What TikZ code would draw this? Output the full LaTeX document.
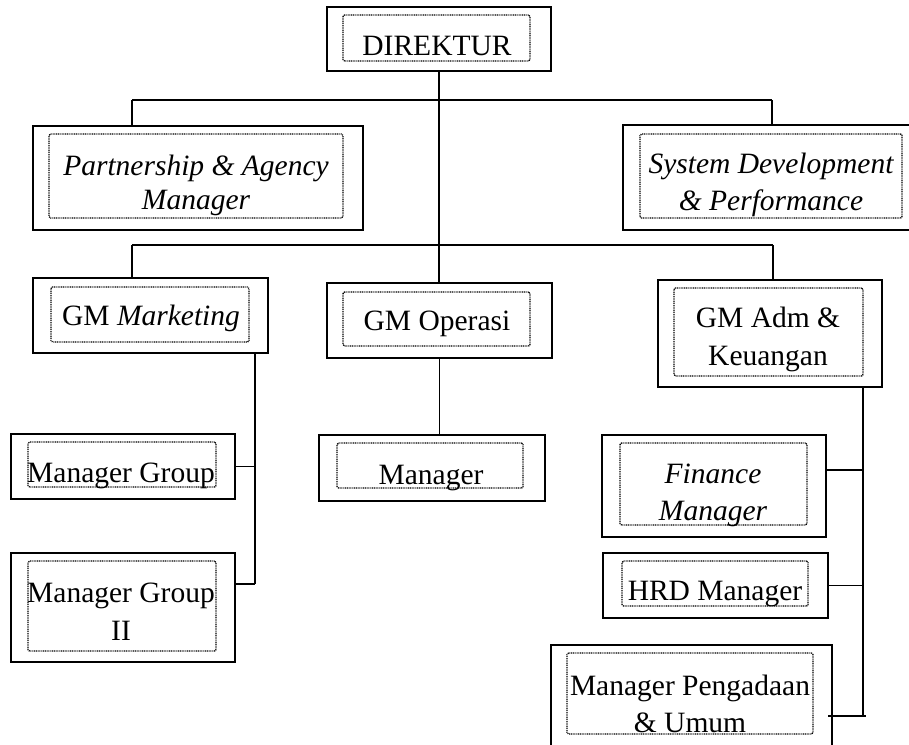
\documentclass[tikz,border=0pt]{standalone}
\usepackage{fontspec}
\setmainfont{Liberation Serif}
\tikzset{
 obox/.style={draw, line width=1.9pt, rectangle, inner sep=0pt, outer sep=0pt},
 ibox/.style={draw, line width=1.4pt, dash pattern=on 1pt off 0.8pt, rounded corners=1.5pt, inner sep=0pt, outer sep=0pt},
 lbl/.style={font=\fontsize{29.5}{35}\selectfont, anchor=base, inner sep=0pt},
 conn/.style={line width=1.8pt}
}
\newcommand\mkbox[9]{%
 \node[obox, minimum width={(#4-#2)*1pt}, minimum height={(#5-#3)*1pt}] (#1) at ({(#2+#4)/2},{(#3+#5)/2}) {};
 \node[ibox, minimum width={(#8-#6)*1pt}, minimum height={(#9-#7)*1pt}] (#1i) at ({(#6+#8)/2},{(#7+#9)/2}) {};
}
\begin{document}
\begin{tikzpicture}[x=1pt,y=-1pt]
\clip (0,0) rectangle (909,744);
\fill[white] (0,0) rectangle (909,744);
% boxes
\mkbox{dir}{327}{7}{551}{71}{343}{15}{530}{61}
\mkbox{pam}{33}{126}{363}{230}{49}{134}{343}{218}
\mkbox{sdp}{623}{125}{912}{230}{640}{134}{902}{218}
\mkbox{gmm}{33}{278}{268}{353}{51}{287}{249}{342}
\mkbox{gmo}{327}{283}{552}{358}{343}{292}{530}{346}
\mkbox{gma}{658}{280}{882}{387}{674}{288}{863}{376}
\mkbox{mgr}{319}{435}{545}{501}{337}{443}{523}{488}
\mkbox{mga}{11}{434}{235}{499}{28}{442}{216}{487}
\mkbox{mgb}{11}{553}{235}{662}{28}{561}{216}{651}
\mkbox{fin}{602}{435}{826}{537}{620}{443}{807}{525}
\mkbox{hrd}{603}{553}{828}{618}{622}{561}{808}{606}
\mkbox{pgd}{551}{645}{832}{762}{567}{653}{813}{734}
% labels
\node[lbl] (t1) at (437,55) {DIREKTUR};
\node[lbl] (t2a) at (196,175) {\itshape Partnership \& Agency};
\node[lbl] (t2b) at (196,209) {\itshape Manager};
\node[lbl] (t3a) at (771,173) {\itshape System Development};
\node[lbl] (t3b) at (771,210) {\itshape \& Performance};
\node[lbl] (t4) at (151,325) {GM \textit{Marketing}};
\node[lbl] (t5) at (437,330) {GM Operasi};
\node[lbl] (t6a) at (768,327) {GM Adm \&};
\node[lbl] (t6b) at (768,365) {Keuangan};
\node[lbl] (t7) at (431,484) {Manager};
\node[lbl] (t8) at (121,482) {Manager Group};
\node[lbl] (t9a) at (121,602) {Manager Group};
\node[lbl] (t9b) at (121,640) {II};
\node[lbl] (t10a) at (713,483) {\itshape Finance};
\node[lbl] (t10b) at (713,520) {\itshape Manager};
\node[lbl] (t11) at (715,600) {HRD Manager};
\node[lbl] (t12a) at (690,695) {Manager Pengadaan};
\node[lbl] (t12b) at (690,732) {\& Umum};
% connectors
\coordinate (b1l) at (132,100);
\coordinate (b1r) at (772,100);
\coordinate (b2l) at (132,245);
\coordinate (b2r) at (773,245);
\coordinate (s1) at (255,584);
\coordinate (f) at (863,470);
\coordinate (s2) at (863,716);
\coordinate (s2e) at (866,716);
\draw[conn] (dir.south) -- (dir.south |- gmo.north);
\draw[conn] (b1l) -- (b1r);
\draw[conn] (b1l) -- (b1l |- pam.north);
\draw[conn] (b1r) -- (b1r |- sdp.north);
\draw[conn] (b2l) -- (b2r);
\draw[conn] (b2l) -- (b2l |- gmm.north);
\draw[conn] (b2r) -- (b2r |- gma.north);
\draw[conn] (s1 |- gmm.south) -- (s1);
\draw[conn] (mga.east) -- (s1 |- mga.east);
\draw[conn] (mgb.east |- s1) -- (s1);
\draw[conn] (gmo.south) -- (gmo.south |- mgr.north);
\draw[conn] (s2 |- gma.south) -- (s2);
\draw[conn] (fin.east |- f) -- (f);
\draw[conn] (hrd.east) -- (s2 |- hrd.east);
\draw[conn] (pgd.east |- s2e) ++(-4,0) -- (s2e);
\end{tikzpicture}
\end{document}
